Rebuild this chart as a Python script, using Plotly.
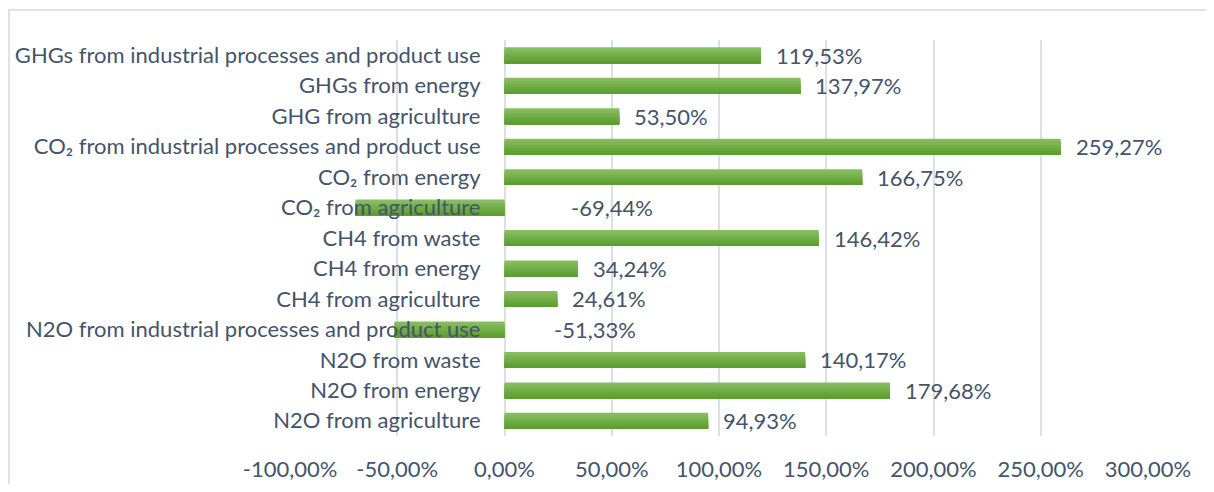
import plotly.graph_objects as go

categories = [
    "N2O from agriculture",
    "N2O from energy",
    "N2O from waste",
    "N2O from industrial processes and product use",
    "CH4 from agriculture",
    "CH4 from energy",
    "CH4 from waste",
    "CO₂ from agriculture",
    "CO₂ from energy",
    "CO₂ from industrial processes and product use",
    "GHG from agriculture",
    "GHGs from energy",
    "GHGs from industrial processes and product use",
]
values = [94.93, 179.68, 140.17, -51.33, 24.61, 34.24, 146.42, -69.44, 166.75, 259.27, 53.50, 137.97, 119.53]
tick_vals = [-100, -50, 0, 50, 100, 150, 200, 250, 300]

def fmt(v):
    return f"{v:.2f}".replace(".", ",") + "%"

tick_text = [fmt(t) for t in tick_vals]
labels = [fmt(v) for v in values]

TEXT = "#44546A"
FONT = "Lato"
FS = 22

# figure sits inside the html body with its default 8px margin
W, H = 1198, 476
L, R, T, B = 282, 58, 32, 48
PW, PH = W - L - R, H - T - B

fig = go.Figure()

# gradient bars: layered horizontal slices anchored at bar bottom (top light -> bottom dark)
n = 10
thick = 0.52
top_c = (0x88, 0xBE, 0x61)
bot_c = (0x5D, 0x9E, 0x30)
for i in range(n):
    t = i / (n - 1)
    c = tuple(round(top_c[k] + (bot_c[k] - top_c[k]) * t) for k in range(3))
    w = thick * (n - i) / n
    fig.add_trace(go.Bar(
        y=categories, x=values, orientation="h",
        marker=dict(color=f"rgb{c}", line=dict(width=0)),
        width=w, offset=-thick / 2, showlegend=False,
        hoverinfo="skip" if i else "x+y",
    ))

for cat, v, lab in zip(categories, values, labels):
    if v >= 0:
        fig.add_annotation(x=v, y=cat, text=lab, xanchor="left", xshift=13,
                           showarrow=False, font=dict(size=FS, color=TEXT, family=FONT))
    else:
        fig.add_annotation(x=0, y=cat, text=lab, xanchor="left", xshift=-v * 0.93,
                           showarrow=False, font=dict(size=FS, color=TEXT, family=FONT))

# chart border (top and left edges visible)
fig.add_shape(type="rect", xref="paper", yref="paper",
              x0=(1 - L) / PW, x1=(W + 20 - L) / PW,
              y0=(T + PH - 520) / PH, y1=(T + PH - 2) / PH,
              line=dict(color="#D9D9D9", width=1.5), layer="below")

fig.update_layout(
    width=W, height=H,
    margin=dict(l=L, r=R, t=T, b=B, autoexpand=False),
    paper_bgcolor="white", plot_bgcolor="white",
    barmode="overlay",
    font=dict(family=FONT, size=FS, color=TEXT),
    xaxis=dict(range=[-100, 300], tickvals=tick_vals, ticktext=tick_text,
               showgrid=True, gridcolor="#DCDFE6", gridwidth=1.5,
               zeroline=True, zerolinecolor="#DCDFE6", zerolinewidth=1.5,
               showline=False, ticks="", automargin=False, ticklabelstandoff=18,
               tickfont=dict(size=FS, color=TEXT, family=FONT)),
    yaxis=dict(type="category", categoryorder="array", categoryarray=categories,
               anchor="free", position=0.25, showgrid=False, zeroline=False,
               showline=False, ticks="", ticklabelstandoff=24, automargin=False,
               tickfont=dict(size=FS, color=TEXT, family=FONT),
               range=[-0.5, len(categories) - 0.5]),
)

fig.write_html("out.html")
